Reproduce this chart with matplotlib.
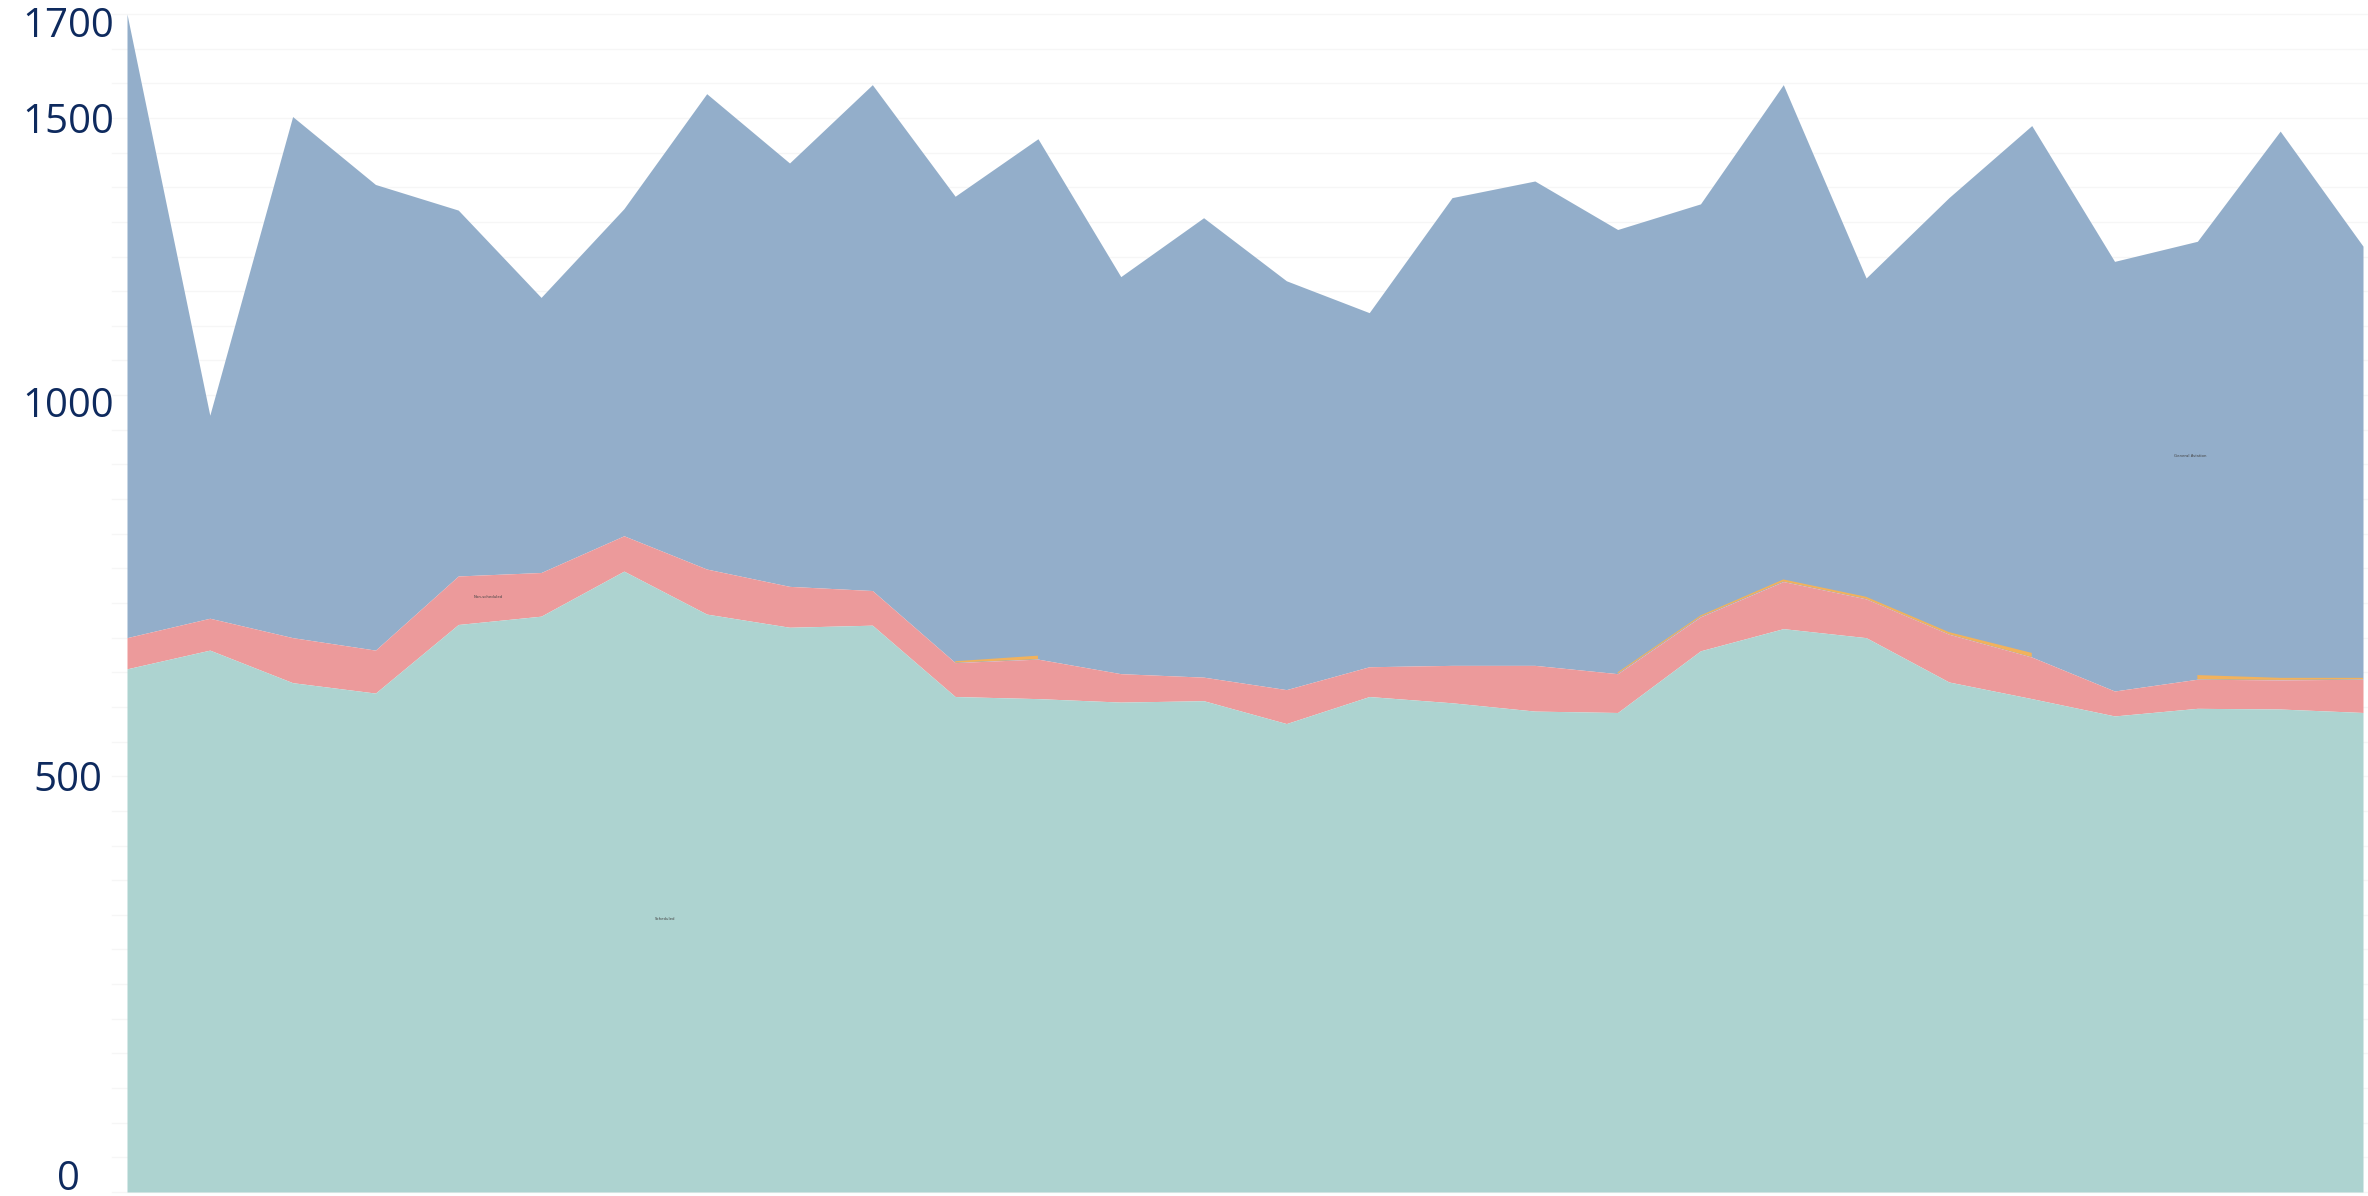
import numpy as np
import matplotlib
matplotlib.use("Agg")
import matplotlib.pyplot as plt

# ---- data ----
periods = list(range(28))
scheduled = [755, 782, 735, 720, 819, 831, 896, 834, 815, 818, 715, 712, 707, 709,
             676, 715, 706, 694, 692, 781, 813, 800, 736, 712, 687, 698, 697, 692]
non_scheduled = [45, 46, 65, 62, 70, 63, 51, 65, 59, 50, 49, 57, 41, 34,
                 49, 43, 54, 66, 56, 49, 68, 56, 69, 60, 36, 42, 42, 48]
other = [np.nan] * 10 + [2, 5] + [np.nan] * 6 + [2, 2, 3, 3, 3, 6] + [np.nan] + [6, 3, 2]
general_aviation = [900, 293, 752, 672, 528, 397, 472, 686, 611, 730, 671, 746, 573, 663,
                    590, 511, 675, 699, 639, 594, 714, 460, 627, 761, 620, 626, 789, 623]

series_names = ["Scheduled", "Non-scheduled", "Other", "General Aviation"]
tick_values = [0, 500, 1000, 1500, 1700]
tick_labels = ["0", "500", "1000", "1500", "1700"]

# ---- styling ----
c_teal = "#ADD3D0"
c_red = "#EC9A9B"
c_orange = "#F2B25C"
c_blue = "#93AECA"
c_label = "#0E2A5E"

W, H = 2368, 1196
fig = plt.figure(figsize=(W / 100, H / 100), dpi=100)
ax = fig.add_axes([127 / W, 4 / H, (2363 - 127) / W, (1182 - 4) / H])

x = np.array(periods, dtype=float)
s = np.array(scheduled, dtype=float)
n = np.array(non_scheduled, dtype=float)
o = np.array(other, dtype=float)
g = np.array(general_aviation, dtype=float)
o0 = np.nan_to_num(o)

lvl1 = s
lvl2 = s + n
lvl4 = s + n + o0 + g

# gridlines every 50
for v in np.arange(0, 1701, 50):
    ax.plot([-0.18, 27.1], [v, v], color="#F6F6F6", lw=1.0, zorder=0, clip_on=False)

ax.fill_between(x, lvl2, lvl4, color=c_blue, lw=0, zorder=2)
ax.fill_between(x, lvl1, lvl2, color=c_red, lw=0, zorder=3)
ax.fill_between(x, 0, lvl1, color=c_teal, lw=0, zorder=4)
ax.fill_between(x, lvl2, lvl2 + o, color=c_orange, lw=0, zorder=5)

ax.set_xlim(0, 27)
ax.set_ylim(0, 1700)
ax.set_xticks([])
ax.set_yticks([])
for sp in ax.spines.values():
    sp.set_visible(False)
ax.patch.set_alpha(0)

# y labels (placed as in the reference)
label_pix_y = [1180, 781, 407, 123, 27]
for lab, py in zip(tick_labels, label_pix_y):
    fig.text(68 / W, 1 - py / H, lab, ha="center", va="center", fontsize=29,
             color=c_label, family="Open Sans")

# tiny in-area series labels
fig.text(488 / W, 1 - 597 / H, "Non-scheduled", ha="center", va="center", fontsize=2.8, color="#444444")
fig.text(665 / W, 1 - 919 / H, "Scheduled", ha="center", va="center", fontsize=2.8, color="#444444")
fig.text(2190 / W, 1 - 456 / H, "General Aviation", ha="center", va="center", fontsize=2.8, color="#444444")

fig.savefig("out.png", dpi=100)
